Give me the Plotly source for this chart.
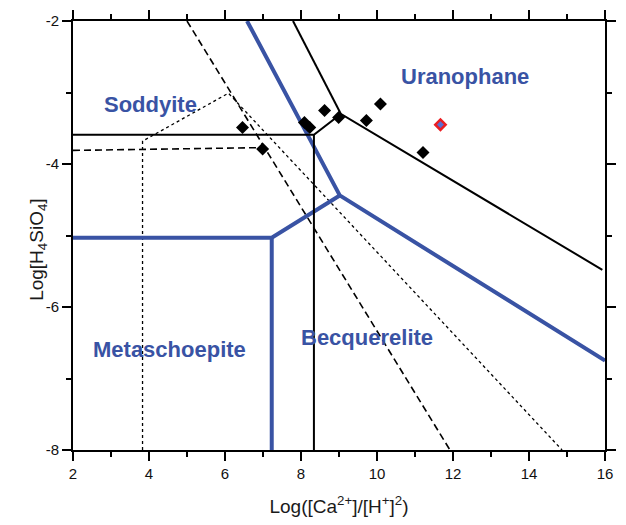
import plotly.graph_objects as go

BLUE = "rgb(57,83,164)"

# Becquerelite field boundaries (blue, thick)
blue_upper_x = [6.58, 9.02, 16.0]
blue_upper_y = [-2.0, -4.44, -6.75]
blue_lower_x = [2.0, 7.23, 9.02]
blue_lower_y = [-5.03, -5.03, -4.44]
blue_vert_x = [7.23, 7.23]
blue_vert_y = [-5.03, -8.0]

# Black solid boundaries
blk_a_x = [2.0, 8.34, 9.05, 15.93]
blk_a_y = [-3.59, -3.59, -3.30, -5.48]
blk_b_x = [7.79, 9.05]
blk_b_y = [-2.0, -3.30]
blk_c_x = [8.34, 8.34]
blk_c_y = [-3.59, -8.0]

# Dashed boundaries
dash_a_x = [5.0, 11.92]
dash_a_y = [-2.0, -8.0]
dash_b_x = [2.0, 7.05]
dash_b_y = [-3.81, -3.77]

# Dotted boundaries
dot_x = [3.83, 3.83, 6.09, 14.87]
dot_y = [-8.0, -3.68, -3.01, -8.0]

# Samples
pts_x = [6.46, 6.99, 8.09, 8.23, 8.62, 8.99, 9.72, 10.09, 11.21]
pts_y = [-3.49, -3.79, -3.42, -3.49, -3.25, -3.35, -3.39, -3.16, -3.84]
red_x = [11.67]
red_y = [-3.45]

labels = ["Soddyite", "Uranophane", "Metaschoepite", "Becquerelite"]
labels_x = [4.03, 12.31, 4.54, 9.73]
labels_y = [-3.17, -2.78, -6.60, -6.43]

x_ticks = [2, 4, 6, 8, 10, 12, 14, 16]
y_ticks = [-8, -6, -4, -2]
y_ticktext = ["-8", "-6", "-4", "-2"]

fig = go.Figure()

def add_line(xs, ys, color, width, dash="solid"):
    fig.add_trace(go.Scatter(x=xs, y=ys, mode="lines",
                             line=dict(color=color, width=width, dash=dash),
                             hoverinfo="skip", showlegend=False))

add_line(dot_x, dot_y, "black", 1.3, "dot")
add_line(dash_a_x, dash_a_y, "black", 1.6, "7px,4px")
add_line(dash_b_x, dash_b_y, "black", 1.6, "7px,4px")
add_line(blue_upper_x, blue_upper_y, BLUE, 4)
add_line(blue_lower_x, blue_lower_y, BLUE, 4)
add_line(blue_vert_x, blue_vert_y, BLUE, 4)
add_line(blk_a_x, blk_a_y, "black", 2)
add_line(blk_b_x, blk_b_y, "black", 2)
add_line(blk_c_x, blk_c_y, "black", 2)

fig.add_trace(go.Scatter(x=pts_x, y=pts_y, mode="markers",
                         marker=dict(symbol="diamond", size=10, color="black"),
                         showlegend=False))
fig.add_trace(go.Scatter(x=red_x, y=red_y, mode="markers",
                         marker=dict(symbol="diamond", size=8, color="rgb(90,110,210)",
                                     line=dict(color="rgb(235,30,35)", width=2.5)),
                         showlegend=False))

for t, lx, ly in zip(labels, labels_x, labels_y):
    fig.add_annotation(x=lx, y=ly, text="<b>" + t + "</b>", showarrow=False,
                       font=dict(family="Liberation Sans, Arial", size=22, color=BLUE),
                       xanchor="center", yanchor="middle")

fig.add_annotation(x=-0.092, xref="paper", y=-5.2, yref="y",
                   text="Log[H<sub>4</sub>SiO<sub>4</sub>]", textangle=-90,
                   showarrow=False,
                   font=dict(family="Liberation Sans, Arial", size=19, color="#1a1a1a"))

axis_common = dict(showline=True, linecolor="black", linewidth=2, mirror="allticks",
                   ticks="outside", ticklen=9, tickwidth=2, tickcolor="black",
                   showgrid=False, zeroline=False,
                   tickfont=dict(family="Liberation Sans, Arial", size=15, color="#111"),
                   minor=dict(ticks="outside", ticklen=5, tickwidth=2, tickcolor="black",
                              dtick=1, showgrid=False))

fig.update_xaxes(range=[2, 16], tickmode="array", tickvals=x_ticks,
                 title=dict(text="Log([Ca<sup>2+</sup>]/[H<sup>+</sup>]<sup>2</sup>)",
                            font=dict(family="Liberation Sans, Arial", size=19, color="#1a1a1a"),
                            standoff=20),
                 **axis_common)
fig.update_yaxes(range=[-8, -2], tickmode="array", tickvals=y_ticks, ticktext=y_ticktext,
                 **axis_common)

# page body adds an 8px offset on each side; the figure is sized to fit the
# window without scrollbars and margins place the plot where the reference has it
fig.update_layout(width=610, height=509, plot_bgcolor="white", paper_bgcolor="white",
                  margin=dict(l=65, r=2, t=11, b=61), showlegend=False)

fig.write_html("out.html", config={"displayModeBar": False})
